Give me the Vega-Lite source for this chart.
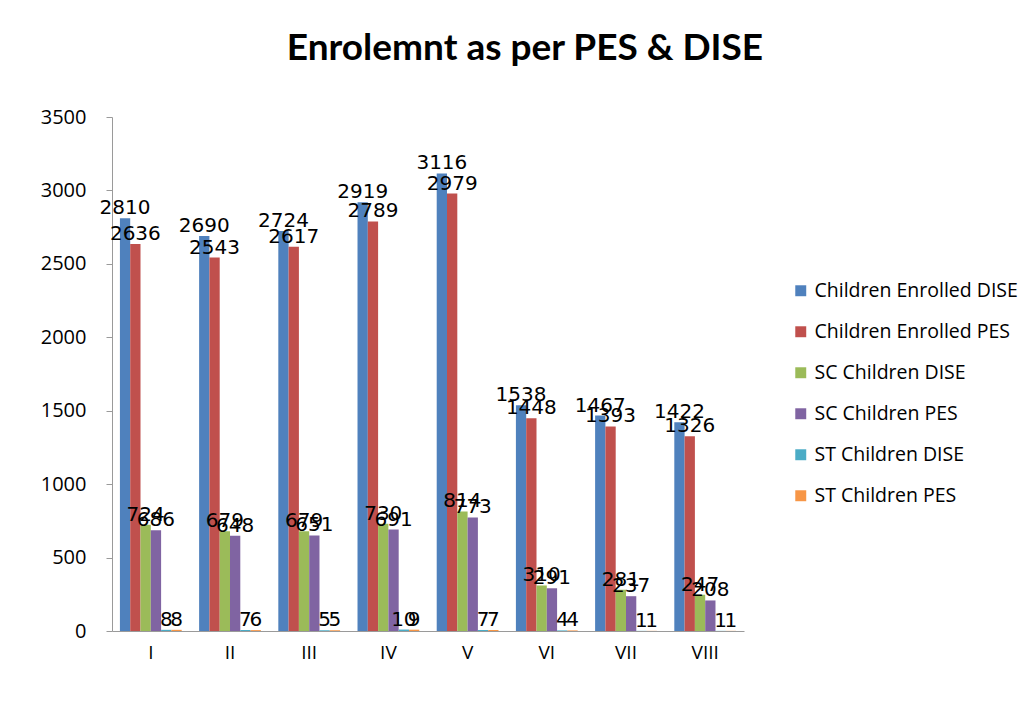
{
  "$schema": "https://vega.github.io/schema/vega-lite/v6.json",
  "autosize": "none",
  "width": 632,
  "height": 514,
  "padding": {"left": 112, "top": 117, "right": 289, "bottom": 76},
  "background": "white",
  "title": {
    "text": "Enrolemnt as per PES & DISE",
    "font": "Lato",
    "fontSize": 37,
    "fontWeight": "bold",
    "color": "black",
    "anchor": "middle",
    "dx": 97,
    "offset": 39
  },
  "data": {
    "values": [
      {"cls": "I", "series": "Children Enrolled DISE", "value": 2810},
      {"cls": "I", "series": "Children Enrolled PES", "value": 2636},
      {"cls": "I", "series": "SC Children  DISE", "value": 724},
      {"cls": "I", "series": "SC Children  PES", "value": 686},
      {"cls": "I", "series": "ST Children  DISE", "value": 8},
      {"cls": "I", "series": "ST Children  PES", "value": 8},
      {"cls": "II", "series": "Children Enrolled DISE", "value": 2690},
      {"cls": "II", "series": "Children Enrolled PES", "value": 2543},
      {"cls": "II", "series": "SC Children  DISE", "value": 679},
      {"cls": "II", "series": "SC Children  PES", "value": 648},
      {"cls": "II", "series": "ST Children  DISE", "value": 7},
      {"cls": "II", "series": "ST Children  PES", "value": 6},
      {"cls": "III", "series": "Children Enrolled DISE", "value": 2724},
      {"cls": "III", "series": "Children Enrolled PES", "value": 2617},
      {"cls": "III", "series": "SC Children  DISE", "value": 679},
      {"cls": "III", "series": "SC Children  PES", "value": 651},
      {"cls": "III", "series": "ST Children  DISE", "value": 5},
      {"cls": "III", "series": "ST Children  PES", "value": 5},
      {"cls": "IV", "series": "Children Enrolled DISE", "value": 2919},
      {"cls": "IV", "series": "Children Enrolled PES", "value": 2789},
      {"cls": "IV", "series": "SC Children  DISE", "value": 730},
      {"cls": "IV", "series": "SC Children  PES", "value": 691},
      {"cls": "IV", "series": "ST Children  DISE", "value": 10},
      {"cls": "IV", "series": "ST Children  PES", "value": 9},
      {"cls": "V", "series": "Children Enrolled DISE", "value": 3116},
      {"cls": "V", "series": "Children Enrolled PES", "value": 2979},
      {"cls": "V", "series": "SC Children  DISE", "value": 814},
      {"cls": "V", "series": "SC Children  PES", "value": 773},
      {"cls": "V", "series": "ST Children  DISE", "value": 7},
      {"cls": "V", "series": "ST Children  PES", "value": 7},
      {"cls": "VI", "series": "Children Enrolled DISE", "value": 1538},
      {"cls": "VI", "series": "Children Enrolled PES", "value": 1448},
      {"cls": "VI", "series": "SC Children  DISE", "value": 310},
      {"cls": "VI", "series": "SC Children  PES", "value": 291},
      {"cls": "VI", "series": "ST Children  DISE", "value": 4},
      {"cls": "VI", "series": "ST Children  PES", "value": 4},
      {"cls": "VII", "series": "Children Enrolled DISE", "value": 1467},
      {"cls": "VII", "series": "Children Enrolled PES", "value": 1393},
      {"cls": "VII", "series": "SC Children  DISE", "value": 281},
      {"cls": "VII", "series": "SC Children  PES", "value": 237},
      {"cls": "VII", "series": "ST Children  DISE", "value": 1},
      {"cls": "VII", "series": "ST Children  PES", "value": 1},
      {"cls": "VIII", "series": "Children Enrolled DISE", "value": 1422},
      {"cls": "VIII", "series": "Children Enrolled PES", "value": 1326},
      {"cls": "VIII", "series": "SC Children  DISE", "value": 247},
      {"cls": "VIII", "series": "SC Children  PES", "value": 208},
      {"cls": "VIII", "series": "ST Children  DISE", "value": 1},
      {"cls": "VIII", "series": "ST Children  PES", "value": 1}
    ]
  },
  "encoding": {
    "x": {
      "field": "cls",
      "type": "nominal",
      "sort": null,
      "title": null,
      "scale": {"paddingInner": 0.22, "paddingOuter": 0.1},
      "axis": {
        "labelAngle": 0,
        "labelFont": "Open Sans",
        "labelFontSize": 19,
        "labelColor": "black",
        "labelPadding": 12,
        "domainColor": "#9a9a9a",
        "ticks": false
      }
    },
    "xOffset": {
      "field": "series",
      "type": "nominal",
      "sort": null
    },
    "y": {
      "field": "value",
      "type": "quantitative",
      "title": null,
      "scale": {"domain": [0, 3500]},
      "axis": {
        "values": [0, 500, 1000, 1500, 2000, 2500, 3000, 3500],
        "format": "d",
        "grid": false,
        "labelFont": "Open Sans",
        "labelFontSize": 20,
        "labelColor": "black",
        "labelPadding": 20,
        "domainColor": "#9a9a9a",
        "tickColor": "#9a9a9a",
        "tickSize": 6
      }
    }
  },
  "layer": [
    {
      "mark": {"type": "bar"},
      "encoding": {
        "color": {
          "field": "series",
          "type": "nominal",
          "sort": null,
          "scale": {
            "domain": ["Children Enrolled DISE", "Children Enrolled PES", "SC Children  DISE", "SC Children  PES", "ST Children  DISE", "ST Children  PES"],
            "range": ["#4F81BD", "#C0504D", "#9BBB59", "#8064A2", "#4BACC6", "#F79646"]
          },
          "legend": {
            "title": null,
            "orient": "none",
            "legendX": 679,
            "legendY": 164,
            "symbolType": "square",
            "symbolSize": 120,
            "symbolStrokeWidth": 0,
            "labelFont": "Open Sans",
            "labelFontSize": 19.5,
            "labelColor": "black",
            "labelLimit": 300,
            "rowPadding": 20,
            "labelOffset": 4
          }
        }
      }
    },
    {
      "mark": {"type": "text", "baseline": "bottom", "dy": 0, "font": "DejaVu Sans", "fontSize": 20, "color": "black"},
      "encoding": {
        "text": {"field": "value", "type": "quantitative"}
      }
    }
  ],
  "config": {
    "view": {"stroke": null}
  }
}
